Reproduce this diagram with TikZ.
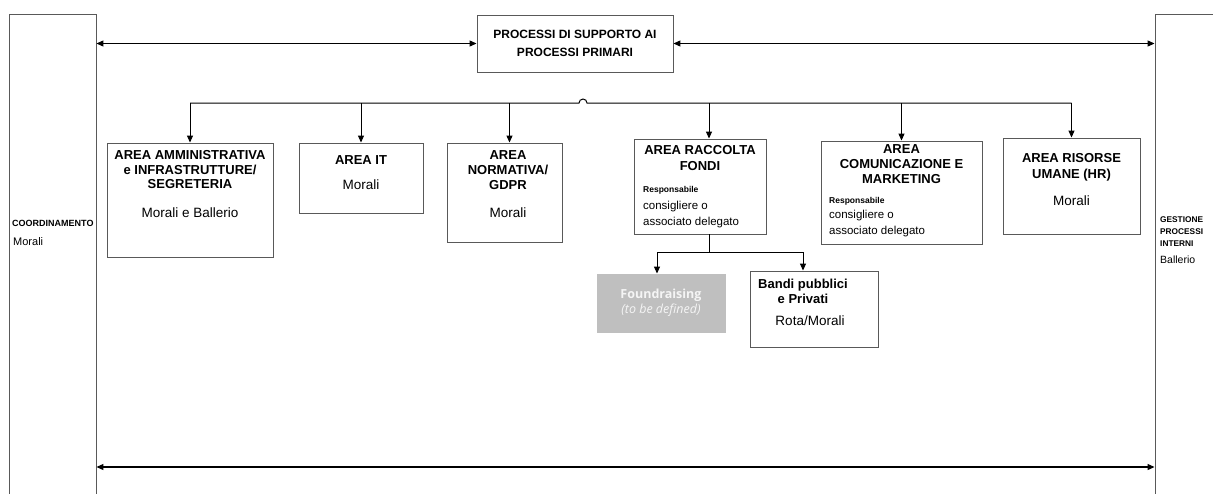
\documentclass[tikz,border=0pt]{standalone}
\usepackage{fontspec}
\setmainfont{Liberation Sans}
\newfontfamily\opensans{Open Sans}
\usetikzlibrary{arrows.meta}

\tikzset{
  box/.style={draw=black!65, line width=.9pt, inner sep=0pt},
  link/.style={line width=1pt, -{Triangle[length=7pt,width=6pt]}},
  twoway/.style={line width=1.1pt, {Triangle[length=7pt,width=6pt]}-{Triangle[length=7pt,width=6pt]}},
  title/.style={font=\fontsize{13}{15}\selectfont\bfseries, align=center, anchor=north, inner sep=0pt},
  plain/.style={font=\fontsize{13.5}{15}\selectfont, inner sep=0pt},
  resp/.style={font=\fontsize{11.5}{15.5}\selectfont, align=left, anchor=north west, inner sep=0pt},
  resphead/.style={font=\fontsize{8.5}{10}\selectfont\bfseries, anchor=west, inner sep=0pt}
}

\begin{document}
\begin{tikzpicture}[x=1pt,y=-1pt]
\useasboundingbox (0,0) rectangle (1213,493);
\clip (0,0) rectangle (1213,493);

% side columns, open at the bottom
\node[box, minimum width=87, minimum height=540] (coord) at (52.5,284) {};
\node[box, minimum width=90, minimum height=540] (gest) at (1200,284) {};
\node[font=\fontsize{9}{10}\selectfont\bfseries, anchor=west, inner sep=0pt] (coordtxt) at (12,223) {COORDINAMENTO};
\node[font=\fontsize{11}{13}\selectfont, anchor=west, inner sep=0pt] (coordname) at (13,242) {Morali};
\node[font=\fontsize{8.3}{12}\selectfont\bfseries, align=left, anchor=north west, inner sep=0pt] (gesttxt) at (1160,216) {GESTIONE\\PROCESSI\\INTERNI};
\node[font=\fontsize{10.5}{12}\selectfont, anchor=west, inner sep=0pt] (gestname) at (1160,260) {Ballerio};

% top box
\node[box, minimum width=196, minimum height=57, font=\fontsize{12}{18}\selectfont\bfseries, align=center] (proc) at (575,43.5) {PROCESSI DI SUPPORTO AI\\PROCESSI PRIMARI};
\draw[twoway] (coord.east |- proc.west) -- (proc.west);
\draw[twoway] (proc.east) -- (proc.east -| gest.west);

% areas
\node[box, minimum width=166, minimum height=114] (amm) at (190,200) {};
\node[title, font=\fontsize{13}{14.5}\selectfont\bfseries] (ammtxt) at (190,150.5) {AREA AMMINISTRATIVA\\e INFRASTRUTTURE/\\SEGRETERIA};
\node[plain] (ammname) at (190,213) {Morali e Ballerio};

\node[box, minimum width=124, minimum height=70] (it) at (361,178) {};
\node[title] (ittxt) at (361,155.5) {AREA IT};
\node[plain] (itname) at (361,185) {Morali};

\node[box, minimum width=115, minimum height=99] (norm) at (504.5,192.5) {};
\node[title] (normtxt) at (508,150.5) {AREA\\NORMATIVA/\\GDPR};
\node[plain] (normname) at (508,213) {Morali};

\node[box, minimum width=132, minimum height=95] (racc) at (700,186.5) {};
\node[title, font=\fontsize{13}{16}\selectfont\bfseries] (racctxt) at (700,145.5) {AREA RACCOLTA\\FONDI};
\node[resphead] (raccresp) at (643,190) {Responsabile};
\node[resp] (raccname) at (643,201) {consigliere o\\associato delegato};

\node[box, minimum width=161, minimum height=103] (comun) at (901.5,192.5) {};
\node[title] (comuntxt) at (901.5,144) {AREA\\COMUNICAZIONE E\\MARKETING};
\node[resphead] (comunresp) at (829,201) {Responsabile};
\node[resp] (comunname) at (829,210) {consigliere o\\associato delegato};

\node[box, minimum width=137, minimum height=96] (ris) at (1071.5,186) {};
\node[title, font=\fontsize{13}{16}\selectfont\bfseries] (ristxt) at (1071.5,153.5) {AREA RISORSE\\UMANE (HR)};
\node[plain] (risname) at (1071.5,201) {Morali};

% bus with a hop
\coordinate (bus) at (583,103);
\draw[line width=1pt] (amm.north |- bus) -- ([xshift=-4pt]bus) arc (180:360:4) -- (ris.north |- bus);
\draw[link] (amm.north |- bus) -- (amm.north);
\draw[link] (it.north |- bus) -- (it.north);
\draw[link] ([xshift=5pt]norm.north |- bus) -- ([xshift=5pt]norm.north);
\draw[link] ([xshift=9pt]racc.north |- bus) -- ([xshift=9pt]racc.north);
\draw[link] (comun.north |- bus) -- (comun.north);
\draw[link] (ris.north |- bus) -- (ris.north);

% fundraising branches
\node[box, fill=black!25, draw=black!25, minimum width=128, minimum height=58] (found) at (661,303) {};
\node[font=\opensans\fontsize{12.5}{15}\selectfont, text=black!4, align=center] (foundtxt) at (found) {{\bfseries Foundraising}\\{\itshape (to be defined)}};
\node[box, minimum width=128, minimum height=76] (bandi) at (814,309) {};
\node[title] (banditxt) at (803,278.5) {Bandi pubblici\\e Privati};
\node[plain] (bandiname) at (810,321) {Rota/Morali};

\coordinate (split) at (709,252);
\draw[line width=1pt] (racc.south -| split) -- (split);
\draw[link] (split) -| ([xshift=-4pt]found.north);
\draw[link] (split) -| ([xshift=-11pt]bandi.north);

% bottom arrow
\coordinate (bottom) at (600,467);
\draw[twoway] (coord.east |- bottom) -- (gest.west |- bottom);
\end{tikzpicture}
\end{document}
